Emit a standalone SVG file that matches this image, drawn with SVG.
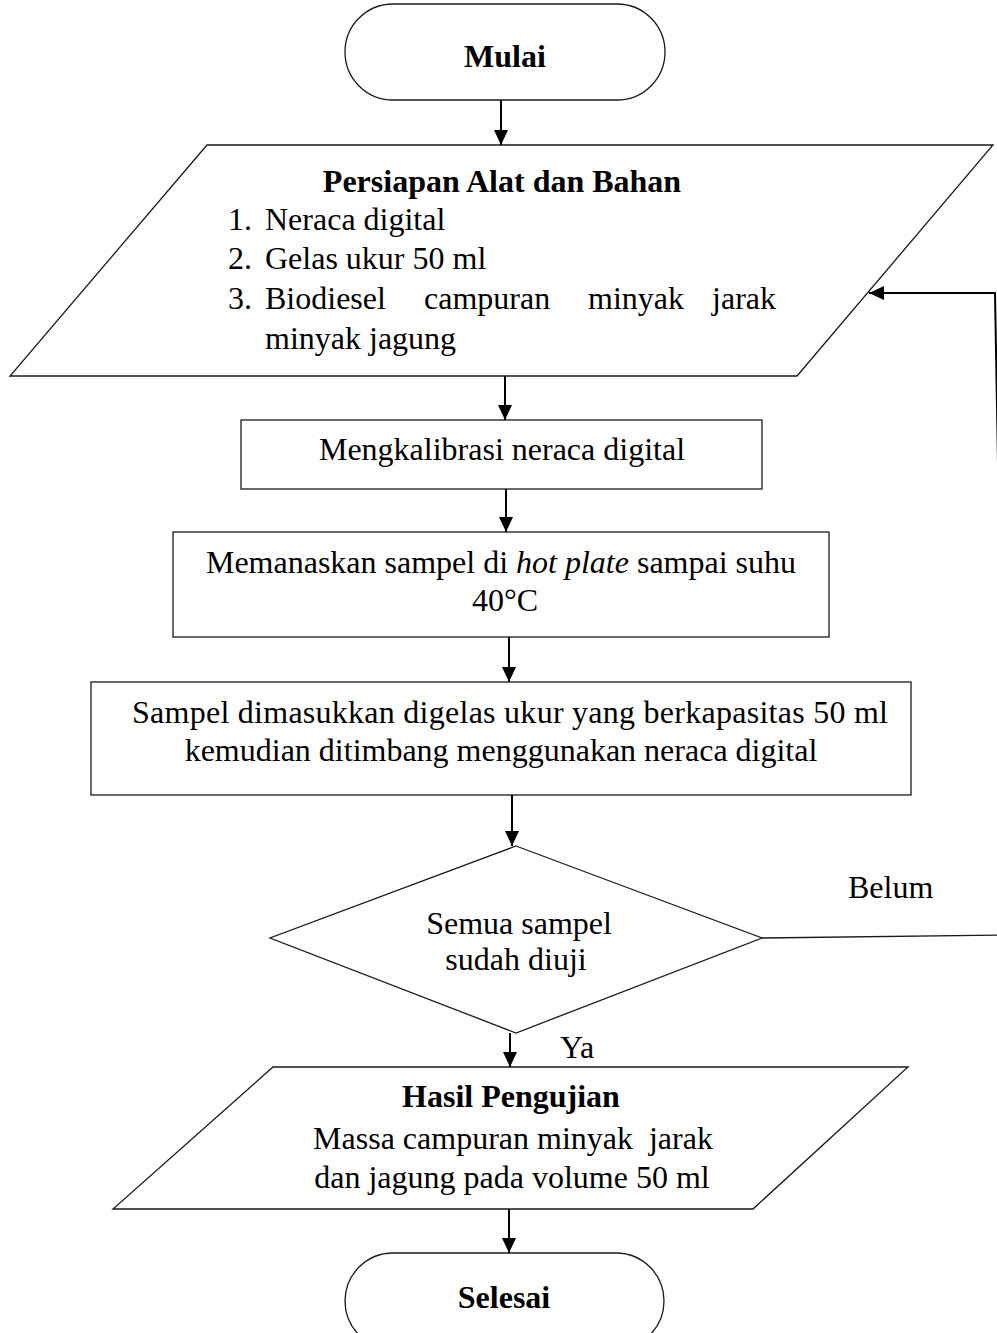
<svg xmlns="http://www.w3.org/2000/svg" width="997" height="1333" viewBox="0 0 997 1333">
  <style>
    .shape { fill: #ffffff; stroke: #1a1a1a; stroke-width: 1.3; }
    .t { font-family: "Liberation Serif", "Times New Roman", serif; font-size: 32px; fill: #000; }
    .c { text-anchor: middle; }
    .b { font-weight: bold; }
    .link { fill: none; stroke: #000; stroke-width: 2; }
  </style>
  <defs>
    <marker id="arrow" viewBox="0 0 15 14" refX="15" refY="7" markerWidth="15" markerHeight="14" markerUnits="userSpaceOnUse" orient="auto">
      <path d="M0,0 L15,7 L0,14 Z" fill="#000"/>
    </marker>
  </defs>

  <rect width="997" height="1333" fill="#ffffff"/>

  <!-- start terminal -->
  <g id="mulai">
    <rect class="shape" x="345" y="4" width="320" height="96" rx="48" ry="48"/>
    <text class="t c b" x="505" y="67">Mulai</text>
  </g>

  <!-- tools and materials input -->
  <g id="persiapan">
    <polygon class="shape" points="207,145 993,145 797,376 10,376"/>
    <text class="t c b" x="502" y="192">Persiapan Alat dan Bahan</text>
    <text class="t" x="228" y="230">1.</text>
    <text class="t" x="265" y="230">Neraca digital</text>
    <text class="t" x="228" y="269">2.</text>
    <text class="t" x="265" y="269">Gelas ukur 50 ml</text>
    <text class="t" x="228" y="309">3.</text>
    <!-- justified line: words spread evenly between the text margins -->
    <text class="t" y="309"><tspan x="265">Biodiesel</tspan><tspan x="424">campuran</tspan><tspan x="588">minyak</tspan><tspan x="776" text-anchor="end">jarak</tspan></text>
    <text class="t" x="265" y="349">minyak jagung</text>
  </g>

  <!-- calibration step -->
  <g id="kalibrasi">
    <rect class="shape" x="241" y="420" width="521" height="69"/>
    <text class="t c" x="502" y="460">Mengkalibrasi neraca digital</text>
  </g>

  <!-- heating step -->
  <g id="memanaskan">
    <rect class="shape" x="173" y="532" width="656" height="105"/>
    <text class="t c" x="501" y="573">Memanaskan sampel di <tspan font-style="italic">hot plate</tspan> sampai suhu</text>
    <text class="t c" x="505" y="611">40°C</text>
  </g>

  <!-- weighing step -->
  <g id="menimbang">
    <rect class="shape" x="91" y="682" width="820" height="113"/>
    <text class="t c" x="510" y="723" textLength="756">Sampel dimasukkan digelas ukur yang berkapasitas 50 ml</text>
    <text class="t c" x="501" y="761">kemudian ditimbang menggunakan neraca digital</text>
  </g>

  <!-- decision -->
  <g id="keputusan">
    <polygon class="shape" points="516,846 762,938 516,1033 270,938"/>
    <text class="t c" x="519" y="934">Semua sampel</text>
    <text class="t c" x="516" y="970">sudah diuji</text>
  </g>

  <!-- result output -->
  <g id="hasil">
    <polygon class="shape" points="273,1067 908,1067 753,1209 113,1209"/>
    <text class="t c b" x="511" y="1107">Hasil Pengujian</text>
    <text class="t c" x="513" y="1149">Massa campuran minyak&#160; jarak</text>
    <text class="t c" x="512" y="1188">dan jagung pada volume 50 ml</text>
  </g>

  <!-- end terminal -->
  <g id="selesai">
    <rect class="shape" x="345" y="1253" width="319" height="96" rx="48" ry="48"/>
    <text class="t c b" x="504" y="1308">Selesai</text>
  </g>

  <!-- connectors -->
  <g id="connectors">
    <line class="link" x1="501" y1="100" x2="501" y2="145" marker-end="url(#arrow)"/>
    <line class="link" x1="505" y1="376" x2="505" y2="420" marker-end="url(#arrow)"/>
    <line class="link" x1="506" y1="489" x2="506" y2="532" marker-end="url(#arrow)"/>
    <line class="link" x1="509" y1="637" x2="509" y2="682" marker-end="url(#arrow)"/>
    <line class="link" x1="512" y1="795" x2="512" y2="846" marker-end="url(#arrow)"/>
    <line class="link" x1="510" y1="1033" x2="510" y2="1067" marker-end="url(#arrow)"/>
    <line class="link" x1="509" y1="1209" x2="509" y2="1253" marker-end="url(#arrow)"/>
    <!-- loop back when not all samples are tested -->
    <polyline fill="none" stroke="#1a1a1a" stroke-width="1.3" points="762,938 999,935"/>
    <polyline fill="none" stroke="#000" stroke-width="2" points="999,520 995,293 869,293" marker-end="url(#arrow)"/>
    <text class="t" x="848" y="898">Belum</text>
    <text class="t" x="560" y="1058">Ya</text>
  </g>
</svg>
